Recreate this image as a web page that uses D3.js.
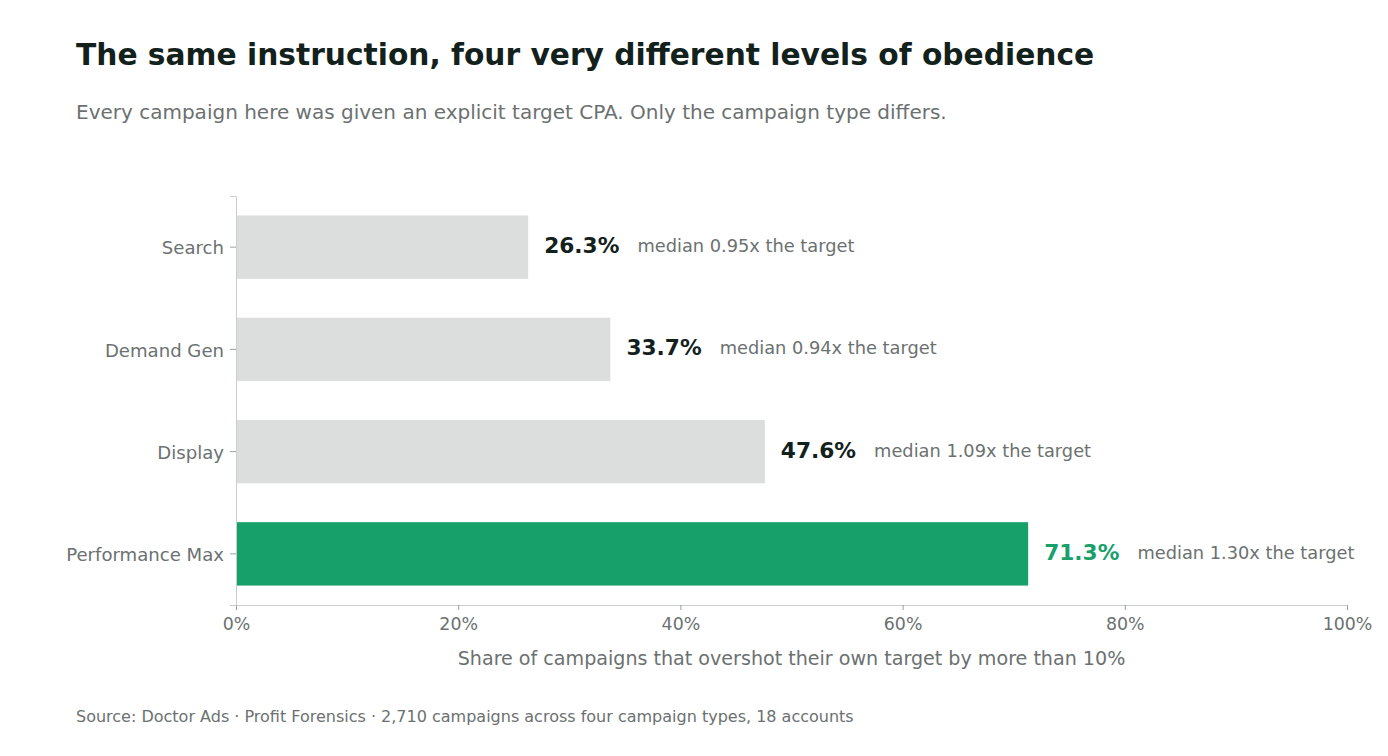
<!DOCTYPE html>
<html>
<head>
<meta charset="utf-8">
<script src="https://cdn.jsdelivr.net/npm/d3@7"></script>
<style>
  body { margin: 0; background: #fff; }
  svg { display: block; font-family: "DejaVu Sans", sans-serif; }
</style>
</head>
<body>
<div id="chart"></div>
<script>
// data
var categories = ['Search', 'Demand Gen', 'Display', 'Performance Max'];
var overshootShare = [26.3, 33.7, 47.6, 71.3];
var medianRatio = ['0.95', '0.94', '1.09', '1.30'];
var highlight = 'Performance Max';
var xTicks = [0, 20, 40, 60, 80, 100];

var W = 1388, H = 756;
var margin = { left: 236, right: 41, top: 196, bottom: 151 };
var textGrey = '#6b7170';
var dark = '#13211c';
var green = '#18a06b';

var svg = d3.select('#chart').append('svg')
  .attr('width', W)
  .attr('height', H);

// titles
svg.append('text')
  .attr('x', 76).attr('y', 65)
  .attr('font-size', 29.7).attr('font-weight', 'bold')
  .attr('fill', dark)
  .text('The same instruction, four very different levels of obedience');

svg.append('text')
  .attr('x', 76).attr('y', 119)
  .attr('font-size', 20)
  .attr('fill', textGrey)
  .text('Every campaign here was given an explicit target CPA. Only the campaign type differs.');

var x = d3.scaleLinear().domain([0, 100]).range([margin.left, W - margin.right]);
var y = d3.scaleBand().domain(categories)
  .range([margin.top, H - margin.bottom])
  .paddingInner(0.38).paddingOuter(0.19);

var rows = categories.map(function (c, i) {
  return { cat: c, value: overshootShare[i], median: medianRatio[i] };
});

// bars
svg.selectAll('rect.bar').data(rows).enter().append('rect')
  .attr('class', 'bar')
  .attr('x', x(0))
  .attr('y', function (d) { return y(d.cat); })
  .attr('width', function (d) { return x(d.value) - x(0); })
  .attr('height', y.bandwidth())
  .attr('fill', function (d) { return d.cat === highlight ? green : '#dcdedd'; });

// axes
var xAxis = svg.append('g')
  .attr('transform', 'translate(0,' + (H - margin.bottom) + ')')
  .call(d3.axisBottom(x).tickValues(xTicks).tickFormat(function (d) { return d + '%'; }).tickSizeOuter(0).tickSize(5));
xAxis.select('.domain').attr('stroke', '#c9cdcc');
xAxis.selectAll('.tick line').attr('stroke', '#9aa09f');
xAxis.selectAll('.tick text')
  .attr('font-family', 'DejaVu Sans, sans-serif')
  .attr('font-size', 17.4).attr('fill', textGrey).attr('dy', '1em');

var yAxis = svg.append('g')
  .attr('transform', 'translate(' + margin.left + ',0)')
  .call(d3.axisLeft(y).tickSizeOuter(0).tickSize(6));
yAxis.select('.domain').attr('stroke', '#c9cdcc');
yAxis.selectAll('.tick line').attr('stroke', '#9aa09f');
yAxis.selectAll('.tick text')
  .attr('font-family', 'DejaVu Sans, sans-serif')
  .attr('font-size', 18.1).attr('fill', textGrey).attr('x', -12).attr('dy', '0.4em');

// value labels
var labels = svg.selectAll('g.lbl').data(rows).enter().append('g')
  .attr('class', 'lbl')
  .attr('transform', function (d) {
    return 'translate(' + (x(d.value) + 16) + ',' + (y(d.cat) + y.bandwidth() / 2) + ')';
  });

labels.append('text')
  .attr('class', 'val')
  .attr('dy', '0.28em')
  .attr('font-size', 21.7).attr('font-weight', 'bold')
  .attr('fill', function (d) { return d.cat === highlight ? green : dark; })
  .text(function (d) { return d.value.toFixed(1) + '%'; });

labels.append('text')
  .attr('x', function () {
    return this.parentNode.querySelector('text.val').getComputedTextLength() + 18;
  })
  .attr('dy', '0.28em')
  .attr('font-size', 17.8)
  .attr('fill', textGrey)
  .text(function (d) { return 'median ' + d.median + 'x the target'; });

// axis title
svg.append('text')
  .attr('x', (x(0) + x(100)) / 2).attr('y', 665)
  .attr('text-anchor', 'middle')
  .attr('font-size', 19.1).attr('fill', textGrey)
  .text('Share of campaigns that overshot their own target by more than 10%');

// source
svg.append('text')
  .attr('x', 76).attr('y', 722)
  .attr('font-size', 16).attr('fill', textGrey)
  .text('Source: Doctor Ads \u00b7 Profit Forensics \u00b7 2,710 campaigns across four campaign types, 18 accounts');
</script>
</body>
</html>
